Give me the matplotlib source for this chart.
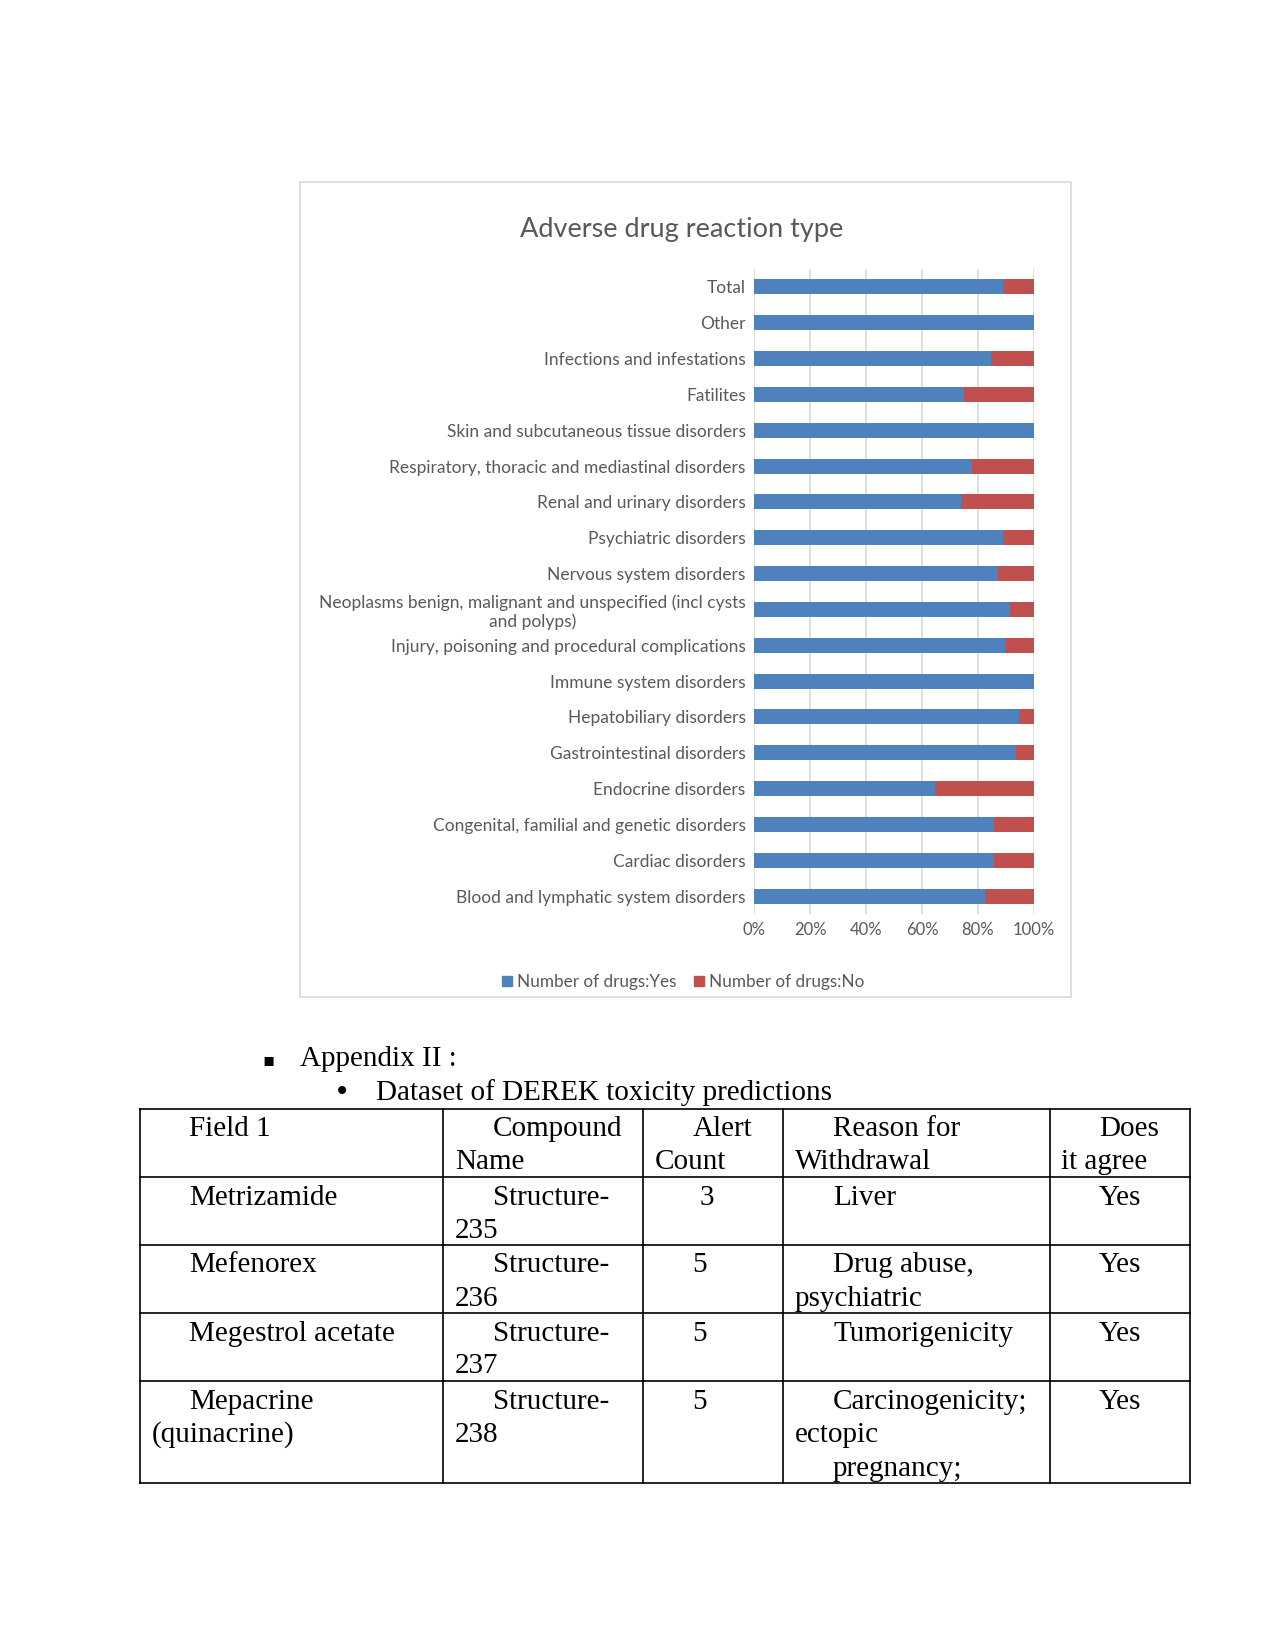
import matplotlib.pyplot as plt
from matplotlib.patches import Rectangle, Patch

# chart data (top to bottom as drawn)
categories = [
    "Total", "Other", "Infections and infestations", "Fatilites",
    "Skin and subcutaneous tissue disorders",
    "Respiratory, thoracic and mediastinal disorders",
    "Renal and urinary disorders", "Psychiatric disorders",
    "Nervous system disorders",
    "Neoplasms benign, malignant and unspecified (incl cysts\nand polyps)",
    "Injury, poisoning and procedural complications",
    "Immune system disorders", "Hepatobiliary disorders",
    "Gastrointestinal disorders", "Endocrine disorders",
    "Congenital, familial and genetic disorders", "Cardiac disorders",
    "Blood and lymphatic system disorders",
]
yes_pct = [88.9, 100, 84.6, 75.0, 100, 77.9, 73.8, 88.9, 87.1,
           91.4, 89.6, 100, 94.6, 93.6, 64.6, 85.7, 85.7, 82.5]
no_pct = [11.1, 0, 15.4, 25.0, 0, 22.1, 26.2, 11.1, 12.9,
          8.6, 10.4, 0, 5.4, 6.4, 35.4, 14.3, 14.3, 17.5]
x_ticks = [0, 20, 40, 60, 80, 100]

# table below the chart
table_lines = [
    # (text, x px, y px)
    ("Field 1", 189, 1127), ("Compound", 493, 1127), ("Name", 455, 1160),
    ("Alert", 693, 1127), ("Count", 655, 1160),
    ("Reason for", 833, 1127), ("Withdrawal", 795, 1160),
    ("Does", 1099, 1127), ("it agree", 1061, 1160),
    ("Metrizamide", 189, 1196), ("Structure-", 493, 1196), ("235", 455, 1229),
    ("3", 700, 1196), ("Liver", 833, 1196), ("Yes", 1099, 1196),
    ("Mefenorex", 189, 1263), ("Structure-", 493, 1263), ("236", 455, 1297),
    ("5", 692, 1263), ("Drug abuse,", 833, 1263), ("psychiatric", 795, 1297),
    ("Yes", 1099, 1263),
    ("Megestrol acetate", 189, 1332), ("Structure-", 493, 1332), ("237", 455, 1364),
    ("5", 692, 1332), ("Tumorigenicity", 833, 1332), ("Yes", 1099, 1332),
    ("Mepacrine", 189, 1400), ("(quinacrine)", 152, 1433),
    ("Structure-", 493, 1400), ("238", 455, 1433), ("5", 692, 1400),
    ("Carcinogenicity;", 833, 1400), ("ectopic", 795, 1433),
    ("pregnancy;", 833, 1467), ("Yes", 1099, 1400),
]
col_edges = [140, 443, 643, 783, 1050, 1190]
row_edges = [1109, 1177, 1245, 1313, 1381, 1483]

W, H = 1275, 1651
blue = '#4f81bd'
red = '#c0504d'
grey = '#595959'

def fx(px):
    return px / W

def fy(py):
    return 1 - py / H

fig = plt.figure(figsize=(W / 100, H / 100), dpi=100)
fig.patch.set_facecolor('white')

# chart frame
fig.patches.append(Rectangle((fx(300), fy(997)), fx(1071) - fx(300), fy(182) - fy(997),
                             transform=fig.transFigure, fill=False,
                             edgecolor='#d9d9d9', linewidth=1.2))

fig.text(fx(682), fy(230), "Adverse drug reaction type", ha='center', va='center',
         fontsize=19.5, color=grey, family='Lato')

ax = fig.add_axes([fx(754), fy(914), fx(1034) - fx(754), fy(269) - fy(914)])
y = list(range(len(categories)))
ax.barh(y, yes_pct, height=0.42, color=blue, label='Number of drugs:Yes', zorder=3)
ax.barh(y, no_pct, left=yes_pct, height=0.42, color=red, label='Number of drugs:No', zorder=3)
ax.set_xlim(0, 100)
ax.set_ylim(len(categories) - 0.5, -0.5)
ax.set_xticks(x_ticks)
ax.set_xticklabels([f"{t}%" for t in x_ticks])
ax.set_yticks(y)
ax.set_yticklabels(categories, multialignment='center', linespacing=1.15)
ax.tick_params(length=0, labelcolor=grey)
ax.tick_params(axis='y', pad=6, labelsize=12.5)
ax.tick_params(axis='x', pad=6, labelsize=12)
for lab in ax.get_xticklabels() + ax.get_yticklabels():
    lab.set_family('Lato')
for s in ax.spines.values():
    s.set_visible(False)
ax.grid(True, axis='x', color='#d9d9d9', linewidth=1.2, zorder=0)

handles = [Patch(color=blue), Patch(color=red)]
leg = fig.legend(handles, ['Number of drugs:Yes', 'Number of drugs:No'],
                 loc='center', bbox_to_anchor=(fx(683), fy(982)), ncol=2, frameon=False,
                 handlelength=0.6, handleheight=0.6, handletextpad=0.3, columnspacing=1.0,
                 prop={'family': 'Lato', 'size': 12.3})
for t in leg.get_texts():
    t.set_color(grey)

# text below the chart
serif = 'Liberation Serif'
fig.text(fx(269), fy(1065), "\u25aa", fontsize=13, family='DejaVu Sans', ha='center', va='baseline')
fig.text(fx(300), fy(1066), "Appendix II :", fontsize=21, family=serif, va='baseline')
fig.text(fx(342), fy(1100), "\u2022", fontsize=20, family='DejaVu Sans', ha='center', va='baseline')
fig.text(fx(376), fy(1100), "Dataset of DEREK toxicity predictions", fontsize=21,
         family=serif, va='baseline')

for xe in col_edges:
    fig.add_artist(plt.Line2D([fx(xe), fx(xe)], [fy(row_edges[0]), fy(row_edges[-1])],
                              color='black', linewidth=1.2, transform=fig.transFigure))
for ye in row_edges:
    fig.add_artist(plt.Line2D([fx(col_edges[0]), fx(col_edges[-1])], [fy(ye), fy(ye)],
                              color='black', linewidth=1.2, transform=fig.transFigure))
for text, px, py in table_lines:
    fig.text(fx(px), fy(py + 9), text, fontsize=21, family=serif, va='baseline')

fig.savefig('out.png', dpi=100, facecolor='white')
